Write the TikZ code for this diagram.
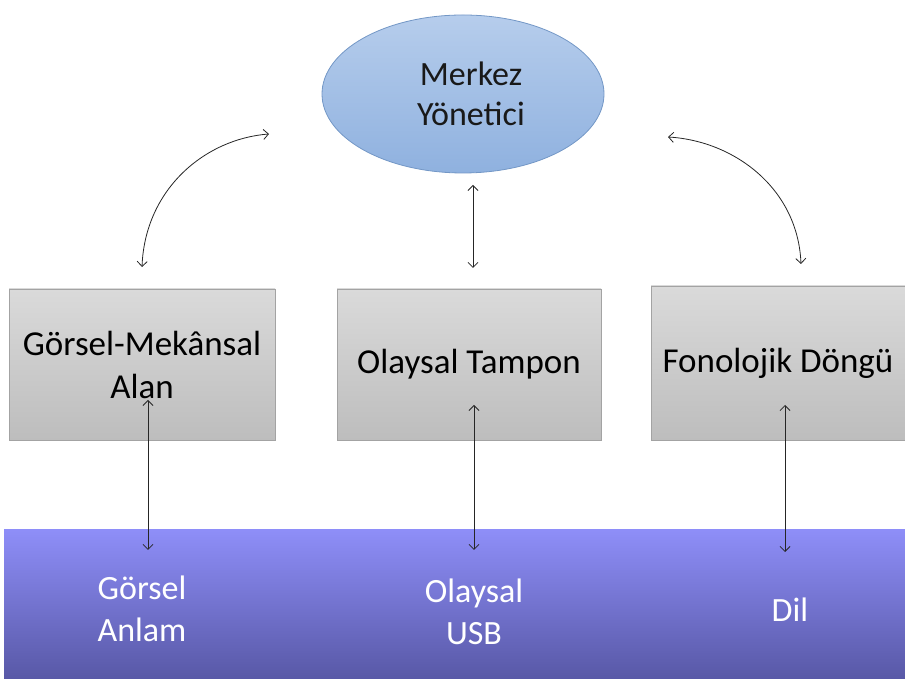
\documentclass[tikz,border=0pt]{standalone}
\usepackage{fontspec}
\setmainfont{Carlito}
\usetikzlibrary{shapes.geometric,arrows.meta}
\definecolor{elltop}{HTML}{B6CDEC}
\definecolor{ellbot}{HTML}{8FB1DF}
\definecolor{elledge}{HTML}{7397C6}
\definecolor{boxtop}{HTML}{DADADA}
\definecolor{boxbot}{HTML}{BDBDBD}
\definecolor{boxedge}{HTML}{A3A3A3}
\definecolor{bandtop}{HTML}{8E8EF8}
\definecolor{bandbot}{HTML}{5858A6}
\begin{document}
\begin{tikzpicture}[x=1pt,y=1pt,
  gbox/.style={draw=boxedge, line width=0.8pt, top color=boxtop, bottom color=boxbot, inner sep=0pt, align=center, font=\fontsize{35}{43}\selectfont, text=black},
  bandtxt/.style={align=center, text=white, font=\fontsize{34}{42}\selectfont},
  arr/.style={draw=black!85, line width=0.8pt, {Straight Barb[length=5pt,width=10pt]}-{Straight Barb[length=5pt,width=10pt]}}
]
\useasboundingbox (0,0) rectangle (905,679);
% band
\node[rectangle, draw=none, top color=bandtop, bottom color=bandbot, minimum width=901pt, minimum height=149pt, inner sep=0pt] (band) at (454.5,74.5) {};
% ellipse
\node[ellipse, draw=elledge, line width=0.8pt, top color=elltop, bottom color=ellbot, minimum width=282pt, minimum height=158pt, inner sep=0pt, align=center, font=\fontsize{34}{40}\selectfont, text=black!90] (ce) at (463,585) {\hspace{16pt}Merkez\\\hspace{16pt}Yönetici};
% boxes
\node[gbox, minimum width=266pt, minimum height=151pt] (vs) at (142,314.5) {Görsel-Mekânsal\\Alan};
\node[gbox, minimum width=264pt, minimum height=151pt] (eb) at (469,314.5) {\raisebox{-6pt}{Olaysal Tampon}};
\node[gbox, minimum width=254pt, minimum height=154pt] (pl) at (778,316) {Fonolojik Döngü};
% band texts
\node[bandtxt] (t1) at (142,70) {Görsel\\Anlam};
\node[bandtxt] (t2) at (474,67) {Olaysal\\USB};
\node[bandtxt] (t3) at (790,69) {Dil};
% coordinates
\coordinate (m1) at (473,494);
\coordinate (m2) at (473,411);
\coordinate (a1) at (148,279);
\coordinate (a2) at (148,129);
\coordinate (b1) at (474,274);
\coordinate (b2) at (474,129);
\coordinate (c1) at (785,274);
\coordinate (c2) at (785,127);
\coordinate (l1) at (269,545);
\coordinate (l2) at (142,412);
\coordinate (r1) at (668,542);
\coordinate (r2) at (801,415);
% arrows
\draw[arr] (m1) -- (m2);
\draw[arr] (a1) -- (a2);
\draw[arr] (b1) -- (b2);
\draw[arr] (c1) -- (c2);
\draw[arr] (l1) .. controls (205,540) and (145,490) .. (l2);
\draw[arr] (r1) .. controls (735,538) and (798,490) .. (r2);
\end{tikzpicture}
\end{document}
